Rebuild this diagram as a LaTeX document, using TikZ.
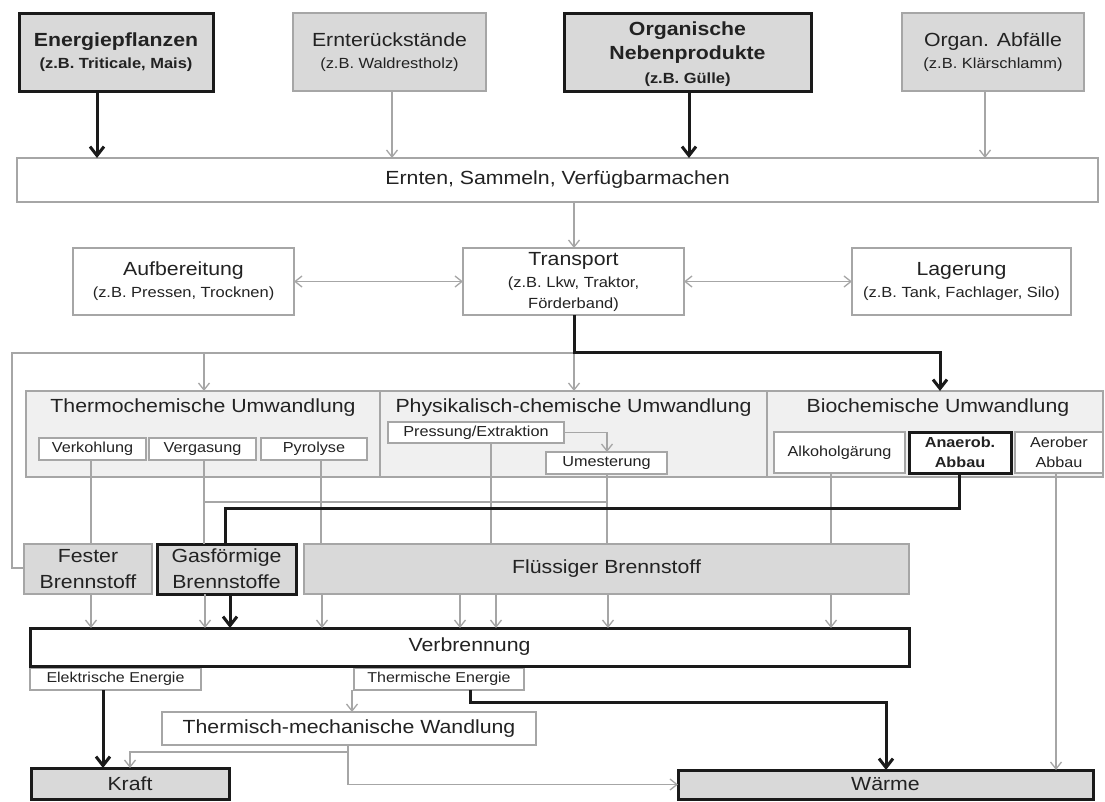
\documentclass[tikz,border=0pt]{standalone}
\usepackage{fontspec}
\setmainfont{Liberation Sans}[FakeStretch=1.12]
\usetikzlibrary{arrows.meta}
\definecolor{lgray}{HTML}{A6A6A6}
\definecolor{fillg}{HTML}{D9D9D9}
\definecolor{fillc}{HTML}{F0F0F0}
\definecolor{txt}{HTML}{222222}
\definecolor{dk}{HTML}{1A1A1A}
\newcommand\fz[1]{\fontsize{#1}{22}\selectfont}
\begin{document}
\begin{tikzpicture}[x=1pt,y=-1pt,
  every node/.style={text=txt},
  bx/.style={draw=lgray, line width=1.4pt, inner sep=0pt, outer sep=0pt, align=center, font=\fz{19}},
  topbox/.style={bx, fill=fillg},
  thickbox/.style={draw=dk, line width=3pt},
  convbox/.style={bx, fill=fillc},
  subbox/.style={bx, fill=white, line width=1.2pt, font=\fz{14.5}},
  ttl/.style={font=\fz{19}, inner sep=0pt},
  ln/.style={draw=lgray, line width=1.3pt},
  arr/.style={ln, -{Straight Barb[length=7pt,width=11pt]}},
  darr/.style={ln, {Straight Barb[length=7pt,width=11pt]}-{Straight Barb[length=7pt,width=11pt]}},
  tln/.style={draw=dk, line width=3pt},
  tarr/.style={tln, -{Straight Barb[length=9pt,width=14pt]}}
]
\useasboundingbox[fill=white] (0,0) rectangle (1105,801);

\foreach \v in {12,91,97,103,130,204,205,225,230,321,322,348,352,392,460,470,491,496,574,607,608,689,831,886,940,959,985,1056}
  \coordinate (X\v) at (\v,0);
\foreach \v in {352,353,502,508,568,702,752}
  \coordinate (Y\v) at (0,\v);

% ---- top row
\node[topbox,thickbox,minimum width=194,minimum height=78] (en) at (116,52)
  {{\bfseries\fz{19}Energiepflanzen}\\{\bfseries\fz{14.7}(z.B. Triticale, Mais)}};
\node[topbox,minimum width=193,minimum height=78] (er) at (389.5,52)
  {{\fz{19}Ernterückstände}\\{\fz{14.7}(z.B. Waldrestholz)}};
\node[topbox,thickbox,minimum width=247,minimum height=78] (on) at (687.5,52)
  {{\bfseries\fz{19}\rule{0pt}{19pt}Organische}\\[2pt]{\bfseries\fz{19}Nebenprodukte}\\[2pt]{\bfseries\fz{14.7}(z.B. Gülle)}};
\node[topbox,minimum width=182,minimum height=78] (oa) at (993,52)
  {{\fz{19}Organ. Abfälle}\\{\fz{14.7}(z.B. Klärschlamm)}};

\node[bx,fill=white,minimum width=1081,minimum height=44] (ern) at (557.5,180)
  {Ernten, Sammeln, Verfügbarmachen};

\node[bx,fill=white,minimum width=221,minimum height=67] (auf) at (183.5,281.5)
  {{\fz{19}Aufbereitung}\\{\fz{14.7}(z.B. Pressen, Trocknen)}};
\node[bx,fill=white,minimum width=221,minimum height=67] (tra) at (573.5,281.5)
  {{\fz{19}Transport}\\{\fz{14.7}(z.B. Lkw, Traktor,}\\[-1pt]{\fz{14.7}Förderband)}};
\node[bx,fill=white,minimum width=219,minimum height=67] (lag) at (961.5,281.5)
  {{\fz{19}Lagerung}\\{\fz{14.7}(z.B. Tank, Fachlager, Silo)}};

% ---- conversion
\node[convbox,minimum width=354,minimum height=86] (thc) at (203,434) {};
\node[convbox,minimum width=387,minimum height=86] (phc) at (573.5,434) {};
\node[convbox,minimum width=336,minimum height=86] (bic) at (935,434) {};
\node[ttl] (tht) at (203,408) {Thermochemische Umwandlung};
\node[ttl] (pht) at (573.5,408) {Physikalisch-chemische Umwandlung};
\node[ttl] (bit) at (938,408) {Biochemische Umwandlung};

\node[subbox,minimum width=107,minimum height=22] (vk) at (92.5,449) {Verkohlung};
\node[subbox,minimum width=107,minimum height=22] (vg) at (202.5,449) {Vergasung};
\node[subbox,minimum width=106,minimum height=22] (py) at (314,449) {Pyrolyse};
\node[subbox,minimum width=176,minimum height=21] (pe) at (476,432.5) {Pressung/Extraktion};
\node[subbox,minimum width=121,minimum height=22] (um) at (606.5,463) {Umesterung};
\node[subbox,minimum width=131,minimum height=41] (alk) at (839.5,452.5) {Alkoholgärung};
\node[subbox,thickbox,minimum width=102,minimum height=41] (ana) at (960,452.5) {\bfseries Anaerob.\\[-2pt]\bfseries Abbau};
\node[subbox,minimum width=88,minimum height=41] (aer) at (1059,452.5) {Aerober\\[-2pt]Abbau};

% ---- fuels
\node[topbox,minimum width=128,minimum height=50] (fes) at (88,569) {Fester\\[4pt]Brennstoff};
\node[topbox,thickbox,minimum width=139,minimum height=50] (gas) at (226.5,569) {Gasförmige\\[4pt]Brennstoffe};
\node[topbox,minimum width=605,minimum height=50] (fl) at (606.5,569) {Flüssiger Brennstoff};

\node[bx,fill=white,font=\fz{14.3},minimum width=171,minimum height=22] (el) at (115.5,679) {Elektrische Energie};
\node[bx,fill=white,font=\fz{14.3},minimum width=170,minimum height=22] (the) at (439,679) {Thermische Energie};
\node[bx,thickbox,fill=white,minimum width=879,minimum height=38] (vb) at (469.5,647) {Verbrennung};
\node[bx,fill=white,minimum width=374,minimum height=33] (tm) at (349,728.5) {Thermisch-mechanische Wandlung};
\node[topbox,thickbox,minimum width=198,minimum height=31] (kr) at (130,783.5) {Kraft};
\node[topbox,thickbox,minimum width=415,minimum height=29] (wa) at (885.5,784.5) {Wärme};

% ---- connectors: top
\draw[tarr] (en.south -| X97) -- (ern.north -| X97);
\draw[arr] (er.south -| X392) -- (ern.north -| X392);
\draw[tarr] (on.south -| X689) -- (ern.north -| X689);
\draw[arr] (oa.south -| X985) -- (ern.north -| X985);
\draw[arr] (ern.south -| X574) -- (tra.north -| X574);
\draw[darr] (auf.east) -- (tra.west);
\draw[darr] (tra.east) -- (lag.west);

% gray distribution frame
\draw[arr] (tra.south -| X574) -- (phc.north -| X574);
\draw[ln] (X574 |- Y353) -- (X12 |- Y353) -- (X12 |- Y568) -- (fes.west |- Y568);
\draw[arr] (X204 |- Y353) -- (thc.north -| X204);
% thick main path
\draw[tarr] (tra.south -| X574) |- (X940 |- Y352) -- (bic.north -| X940);

% inside conversion
\draw[arr] (pe.east) -| (um.north -| X607);
\draw[ln] (vk.south -| X91) -- (fes.north -| X91);
\draw[ln] (vg.south -| X204) -- (gas.north -| X204);
\draw[ln] (py.south -| X321) -- (fl.north -| X321);
\draw[ln] (pe.south -| X491) -- (fl.north -| X491);
\draw[ln] (um.south -| X607) -- (fl.north -| X607);
\draw[ln] (X204 |- Y502) -- (X607 |- Y502);
\draw[ln] (alk.south -| X831) -- (fl.north -| X831);
\draw[arr] (aer.south -| X1056) -- (wa.north -| X1056);
\draw[tln] (ana.south -| X959) |- (X225 |- Y508) -- (gas.north -| X225);

% into Verbrennung
\draw[arr] (fes.south -| X91) -- (vb.north -| X91);
\draw[arr] (gas.south -| X205) -- (vb.north -| X205);
\draw[tarr] (gas.south -| X230) -- (vb.north -| X230);
\foreach \v in {322,460,496,608,831}
  \draw[arr] (fl.south -| X\v) -- (vb.north -| X\v);

% outputs
\draw[tarr] (el.south -| X103) -- (kr.north -| X103);
\draw[arr] (the.south -| X352) -- (tm.north -| X352);
\draw[tarr] (the.south -| X470) |- (X886 |- Y702) -- (wa.north -| X886);
\draw[arr] (tm.south -| X348) |- (X130 |- Y752) -- (kr.north -| X130);
\draw[arr] (X348 |- Y752) |- (wa.west);
\end{tikzpicture}
\end{document}
